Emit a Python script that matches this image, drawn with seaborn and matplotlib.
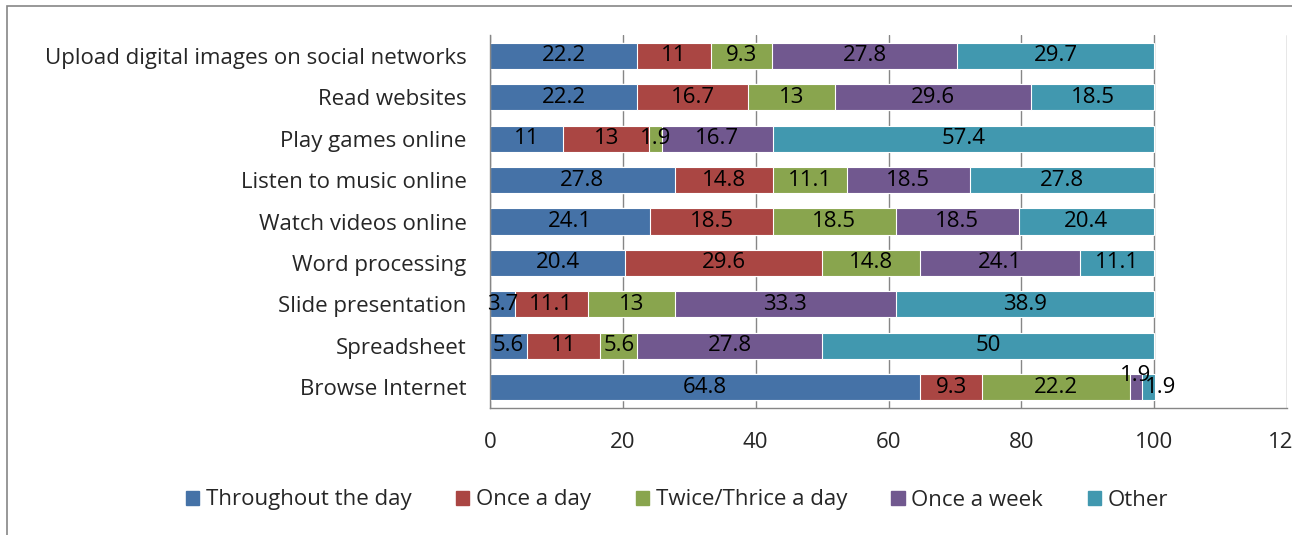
import matplotlib
matplotlib.use("Agg")
import matplotlib.pyplot as plt
import matplotlib.patches as mpatches
import numpy as np
import pandas as pd
import seaborn as sns

categories = ["Upload digital images on social networks", "Read websites",
              "Play games online", "Listen to music online", "Watch videos online",
              "Word processing", "Slide presentation", "Spreadsheet", "Browse Internet"]
series = ["Throughout the day", "Once a day", "Twice/Thrice a day", "Once a week", "Other"]
throughout = [22.2, 22.2, 11, 27.8, 24.1, 20.4, 3.7, 5.6, 64.8]
once_day = [11, 16.7, 13, 14.8, 18.5, 29.6, 11.1, 11, 9.3]
twice_day = [9.3, 13, 1.9, 11.1, 18.5, 14.8, 13, 5.6, 22.2]
once_week = [27.8, 29.6, 16.7, 18.5, 18.5, 24.1, 33.3, 27.8, 1.9]
other = [29.7, 18.5, 57.4, 27.8, 20.4, 11.1, 38.9, 50, 1.9]

colors = ["#4572A7", "#AA4643", "#89A54E", "#71588F", "#4198AF"]

sns.set_style("white")
plt.rcParams['font.family'] = ['Open Sans', 'DejaVu Sans']
FS = 16

df = pd.DataFrame({"cat": categories, series[0]: throughout, series[1]: once_day,
                   series[2]: twice_day, series[3]: once_week, series[4]: other})
vals = df[series].to_numpy()
cum = np.cumsum(vals, axis=1)

fig = plt.figure(figsize=(12.92, 5.35), dpi=100)
ax = fig.add_axes([490 / 1292, 1 - 408 / 535, (1287 - 490) / 1292, (408 - 35) / 535])

# draw stacked bars back to front (largest cumulative first)
for i in range(len(series) - 1, -1, -1):
    sns.barplot(x=cum[:, i], y=df["cat"], orient="h", color=colors[i], saturation=1,
                width=0.63, edgecolor="white", linewidth=0.8, ax=ax, zorder=2)

# data labels
for r in range(len(categories)):
    for i in range(len(series)):
        v = vals[r, i]
        xc = cum[r, i] - v / 2
        yc = r
        ha = "center"
        if r == 8 and i == 3:
            yc = r - 0.28
        if r == 8 and i == 4:
            xc = cum[r, i] - v + 0.4
            ha = "left"
        ax.text(xc, yc, f"{v:g}", ha=ha, va="center", fontsize=FS, color="black", zorder=3)

ax.set_xlim(0, 120)
ax.set_ylim(8.5, -0.5)
ax.set_xticks(range(0, 121, 20))
ax.set_xticklabels([str(t) for t in range(0, 121, 20)], fontsize=FS)
ax.set_yticks(range(len(categories)))
ax.set_yticklabels(categories, fontsize=FS)
ax.set_yticks(np.arange(-0.5, 9, 1), minor=True)
ax.tick_params(axis="y", which="major", length=0, pad=17)
ax.tick_params(axis="y", which="minor", length=5, color="#868686", width=1, direction="out")
ax.tick_params(axis="x", which="major", length=5, color="#868686", width=1, direction="out", pad=12)
ax.set_xlabel("")
ax.set_ylabel("")
ax.xaxis.grid(True, color="#868686", linewidth=1)
ax.set_axisbelow(True)
for s in ["top", "right"]:
    ax.spines[s].set_visible(False)
for s in ["left", "bottom"]:
    ax.spines[s].set_color("#868686")
    ax.spines[s].set_linewidth(1)

handles = [mpatches.Patch(color=c, label=s) for c, s in zip(colors, series)]
fig.legend(handles=handles, loc="center", bbox_to_anchor=(0.524, 1 - 500 / 535), ncol=5,
           frameon=False, fontsize=FS, handlelength=0.6, handleheight=0.6,
           handletextpad=0.3, columnspacing=2.0)

# outer chart frame
fig.patches.append(mpatches.Rectangle((7 / 1292, -0.1), 1.2, 1.1 - 6 / 535, transform=fig.transFigure,
                                      fill=False, edgecolor="#868686", linewidth=1.2))

fig.savefig("out.png", dpi=100)
